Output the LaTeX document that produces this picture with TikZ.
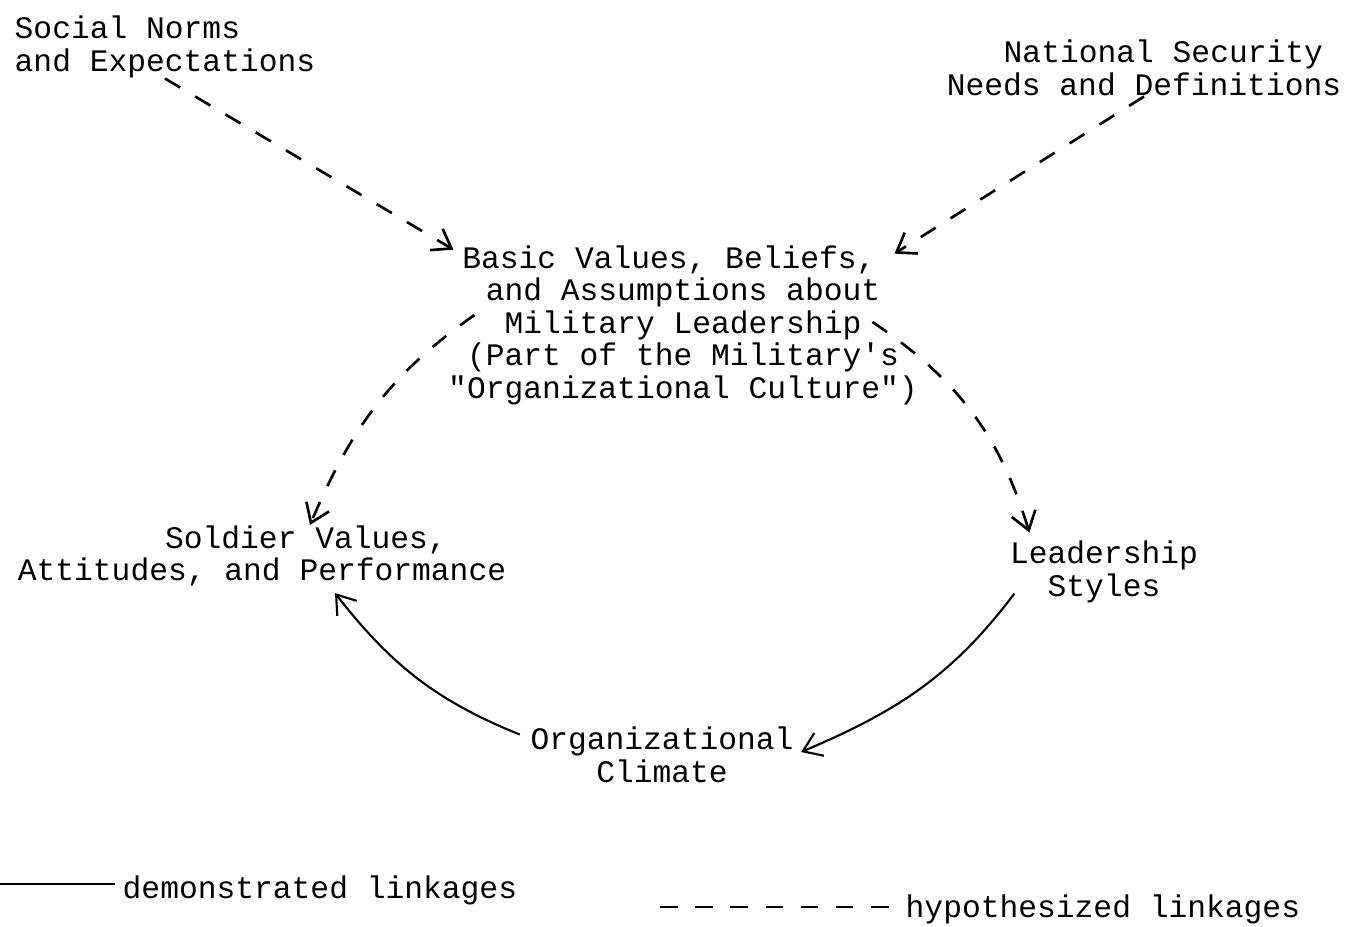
\documentclass[tikz,border=0pt]{standalone}
\usepackage{fontspec}
\setmonofont{Liberation Mono}
\usetikzlibrary{arrows.meta}

\begin{document}
\begin{tikzpicture}[x=0.01cm, y=0.01cm,
  lbl/.style={font=\ttfamily\fontsize{8.9}{9.25}\selectfont, inner sep=0pt, align=center},
  shown/.style={line width=0.6pt, -{Straight Barb[length=5pt,width=7pt]}},
  guessed/.style={shown, line width=0.75pt, dash pattern=on 5pt off 5pt}]
\useasboundingbox (0,0) rectangle (1347,926);
\node[lbl, align=left, anchor=west] (social) at (14,879) {Social Norms\\and Expectations};
\node[lbl] (national) at (1144,858) {\hspace*{11pt}National Security\\Needs and Definitions};
\node[lbl] (basic) at (683,601) {Basic Values, Beliefs,\hspace*{8pt}\\and Assumptions about\hspace*{3pt}\\Military Leadership\\(Part of the Military's\\"Organizational Culture")};
\node[lbl] (soldier) at (262,370) {\hspace*{25pt}Soldier Values,\\Attitudes, and Performance};
\node[lbl] (leader) at (1104,354) {Leadership\\Styles};
\node[lbl] (climate) at (662,171) {Organizational\\Climate};
\draw[guessed] (social.south) -- ([shift={(6,-5)}]basic.north west);
\draw[guessed] (national.south) -- ([shift={(-24,-9)}]basic.north east);
\draw[guessed] ([shift={(27,10)}]basic.west) to[out=215, in=67] ([shift={(48,0)}]soldier.north);
\draw[guessed] ([shift={(-46,3)}]basic.east) to[out=326, in=107] ([shift={(20,8)}]leader.north west);
\draw[shown] ([shift={(5,10)}]leader.south west) to[out=233, in=23] ([shift={(7,3)}]climate.east);
\draw[shown] ([shift={(-10,-8)}]climate.north west) to[out=158, in=-52] ([shift={(73,-6)}]soldier.south);
\node[lbl, anchor=west] (demo) at (122,36) {demonstrated linkages};
\node[lbl, anchor=west] (hypo) at (905,17) {hypothesized linkages};
\coordinate (demostart) at (0,42);
\coordinate (hypostart) at (660,19);
\draw[line width=0.6pt] (demostart) -- ([xshift=-2pt]demo.west |- demostart);
\draw[line width=0.75pt, dash pattern=on 5pt off 5pt] (hypostart) -- ([xshift=-2pt]hypo.west |- hypostart);
\end{tikzpicture}
\end{document}
